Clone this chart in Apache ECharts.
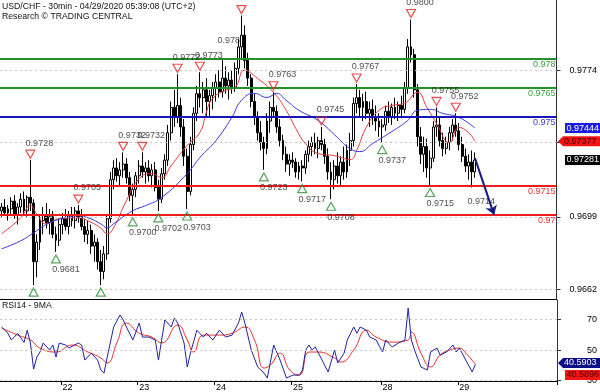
<!DOCTYPE html>
<html>
<head>
<meta charset="utf-8">
<script src="https://cdn.jsdelivr.net/npm/echarts@6.0.0/dist/echarts.min.js"></script>
<style>
html,body{margin:0;padding:0;background:#fff;}
#chart{width:600px;height:392px;}
</style>
</head>
<body>
<div id="chart"></div>
<script>
// ---------- DATA ----------
const titleLine1 = 'USD/CHF - 30min - 04/29/2020 05:39:08 (UTC+2)';
const titleLine2 = 'Research \u00A9 TRADING CENTRAL';
const rsiTitle = 'RSI14 - 9MA';

const dayTickIdx = [19, 43, 67, 91, 119, 143];
const dayTickText = ['22', '23', '24', '25', '28', '29'];
const priceTicks = [0.9662, 0.9699, 0.9737, 0.9774];
const rsiTicks = [30, 50, 70];

const opens = [
0.9702,0.9704,0.9701,0.9703,0.9707,0.9700,0.9704,0.9708,0.9702,0.9709,
0.9706,0.9676,0.9686,0.9697,0.9700,0.9696,0.9699,0.9690,0.9687,0.9695,
0.9698,0.9694,0.9700,0.9697,0.9702,0.9699,0.9694,0.9690,0.9692,0.9684,
0.9686,0.9676,0.9671,0.9680,0.9698,0.9718,0.9724,0.9720,0.9723,0.9726,
0.9719,0.9710,0.9713,0.9720,0.9725,0.9722,0.9724,0.9720,0.9723,0.9714,
0.9708,0.9721,0.9728,0.9742,0.9755,0.9750,0.9756,0.9745,0.9730,0.9712,
0.9736,0.9752,0.9762,0.9760,0.9764,0.9758,0.9761,0.9765,0.9768,0.9763,
0.9770,0.9766,0.9769,0.9765,0.9775,0.9786,0.9792,0.9779,0.9770,0.9758,
0.9750,0.9742,0.9737,0.9734,0.9748,0.9755,0.9753,0.9745,0.9738,0.9731,
0.9726,0.9728,0.9727,0.9722,0.9725,0.9724,0.9731,0.9735,0.9737,0.9734,
0.9738,0.9736,0.9730,0.9722,0.9718,0.9725,0.9720,0.9727,0.9722,0.9733,
0.9738,0.9757,0.9760,0.9755,0.9758,0.9752,0.9754,0.9750,0.9748,0.9745,
0.9746,0.9753,0.9750,0.9755,0.9752,0.9756,0.9754,0.9765,0.9786,0.9782,
0.9764,0.9740,0.9731,0.9735,0.9724,0.9729,0.9745,0.9746,0.9738,0.9734,
0.9737,0.9742,0.9746,0.9743,0.9736,0.9730,0.9725,0.9727,0.9722];
const highs = [
0.9706,0.9708,0.9705,0.9709,0.9710,0.9706,0.9711,0.9712,0.9710,0.9728,
0.9708,0.9690,0.9700,0.9704,0.9706,0.9703,0.9702,0.9694,0.9698,0.9701,
0.9703,0.9702,0.9704,0.9704,0.9705,0.9703,0.9698,0.9697,0.9695,0.9690,
0.9688,0.9682,0.9684,0.9700,0.9722,0.9728,0.9729,0.9727,0.9732,0.9729,
0.9722,0.9716,0.9722,0.9728,0.9732,0.9727,0.9728,0.9726,0.9727,0.9718,
0.9724,0.9731,0.9746,0.9758,0.9764,0.9772,0.9760,0.9749,0.9734,0.9740,
0.9755,0.9766,0.9773,0.9768,0.9770,0.9764,0.9768,0.9772,0.9774,0.9780,
0.9776,0.9773,0.9774,0.9778,0.9790,0.9802,0.9797,0.9783,0.9772,0.9762,
0.9753,0.9748,0.9740,0.9752,0.9758,0.9763,0.9756,0.9749,0.9741,0.9735,
0.9731,0.9732,0.9729,0.9727,0.9728,0.9733,0.9738,0.9740,0.9742,0.9740,
0.9745,0.9739,0.9734,0.9727,0.9728,0.9732,0.9730,0.9735,0.9736,0.9742,
0.9760,0.9767,0.9764,0.9762,0.9763,0.9758,0.9759,0.9756,0.9752,0.9749,
0.9756,0.9758,0.9757,0.9760,0.9758,0.9761,0.9768,0.9790,0.9800,0.9785,
0.9767,0.9745,0.9740,0.9739,0.9733,0.9748,0.9755,0.9750,0.9742,0.9740,
0.9745,0.9749,0.9752,0.9747,0.9740,0.9734,0.9731,0.9733,0.9732];
const lows = [
0.9699,0.9700,0.9697,0.9700,0.9698,0.9695,0.9701,0.9700,0.9699,0.9702,
0.9664,0.9668,0.9682,0.9690,0.9693,0.9690,0.9688,0.9681,0.9684,0.9690,
0.9692,0.9690,0.9694,0.9693,0.9696,0.9692,0.9686,0.9685,0.9680,0.9676,
0.9672,0.9664,0.9667,0.9677,0.9696,0.9713,0.9717,0.9715,0.9719,0.9716,
0.9707,0.9700,0.9709,0.9716,0.9719,0.9716,0.9717,0.9714,0.9712,0.9702,
0.9706,0.9718,0.9725,0.9738,0.9745,0.9747,0.9740,0.9725,0.9703,0.9710,
0.9733,0.9748,0.9755,0.9752,0.9750,0.9750,0.9754,0.9758,0.9760,0.9760,
0.9762,0.9759,0.9762,0.9763,0.9772,0.9780,0.9775,0.9766,0.9755,0.9746,
0.9738,0.9733,0.9723,0.9731,0.9742,0.9750,0.9742,0.9735,0.9728,0.9722,
0.9720,0.9724,0.9719,0.9718,0.9717,0.9721,0.9727,0.9730,0.9731,0.9729,
0.9733,0.9726,0.9718,0.9708,0.9713,0.9716,0.9715,0.9718,0.9719,0.9725,
0.9735,0.9752,0.9750,0.9748,0.9749,0.9745,0.9746,0.9743,0.9740,0.9737,
0.9743,0.9747,0.9746,0.9749,0.9748,0.9750,0.9752,0.9762,0.9778,0.9760,
0.9735,0.9726,0.9722,0.9719,0.9715,0.9727,0.9740,0.9735,0.9730,0.9731,
0.9733,0.9738,0.9740,0.9733,0.9727,0.9722,0.9718,0.9714,0.9719];
const closes = [
0.9704,0.9701,0.9703,0.9707,0.9700,0.9704,0.9708,0.9702,0.9709,0.9706,
0.9676,0.9686,0.9697,0.9700,0.9696,0.9699,0.9690,0.9687,0.9695,0.9698,
0.9694,0.9700,0.9697,0.9702,0.9699,0.9694,0.9690,0.9692,0.9684,0.9686,
0.9676,0.9671,0.9680,0.9698,0.9718,0.9724,0.9720,0.9723,0.9726,0.9719,
0.9710,0.9713,0.9720,0.9725,0.9722,0.9724,0.9720,0.9723,0.9714,0.9708,
0.9721,0.9728,0.9742,0.9755,0.9750,0.9756,0.9745,0.9730,0.9712,0.9736,
0.9752,0.9762,0.9760,0.9764,0.9758,0.9761,0.9765,0.9768,0.9763,0.9770,
0.9766,0.9769,0.9765,0.9775,0.9786,0.9792,0.9779,0.9770,0.9758,0.9750,
0.9742,0.9737,0.9734,0.9748,0.9755,0.9753,0.9745,0.9738,0.9731,0.9726,
0.9728,0.9727,0.9722,0.9725,0.9724,0.9731,0.9735,0.9737,0.9734,0.9738,
0.9736,0.9730,0.9722,0.9718,0.9725,0.9720,0.9727,0.9722,0.9733,0.9738,
0.9757,0.9760,0.9755,0.9758,0.9752,0.9754,0.9750,0.9748,0.9745,0.9746,
0.9753,0.9750,0.9755,0.9752,0.9756,0.9754,0.9765,0.9786,0.9782,0.9764,
0.9740,0.9731,0.9735,0.9724,0.9729,0.9745,0.9746,0.9738,0.9734,0.9737,
0.9742,0.9746,0.9743,0.9736,0.9730,0.9725,0.9727,0.9722,0.97281];

const maBlueIdx = [0,6,10,15,20,24,27,31,33,35,41,45,50,58,62,67,72,75,79,83,86,89,93,99,105,109,112,116,121,127,130,134,138,143,148];
const maBlueVal = [0.96826,0.96867,0.96908,0.96959,0.96985,0.96995,0.96985,0.96954,0.96933,0.96954,0.97021,0.97047,0.97088,0.97211,0.97293,0.97380,0.97499,0.97586,0.97622,0.97601,0.97622,0.97586,0.97535,0.97483,0.97396,0.97339,0.97324,0.97365,0.97416,0.97483,0.97535,0.97540,0.97519,0.97499,0.97444];
const maRedIdx = [0,6,9,11,14,18,24,27,31,33,35,39,43,47,50,53,58,62,64,66,70,73,76,80,85,89,92,95,99,104,109,111,114,118,122,126,130,133,136,140,143,146,148];
const maRedVal = [0.96903,0.96985,0.97047,0.97005,0.96954,0.96980,0.96985,0.96969,0.96933,0.96903,0.96933,0.97072,0.97185,0.97211,0.97190,0.97252,0.97355,0.97422,0.97524,0.97596,0.97637,0.97653,0.97740,0.97699,0.97627,0.97535,0.97442,0.97365,0.97314,0.97303,0.97283,0.97329,0.97447,0.97535,0.97560,0.97571,0.97627,0.97550,0.97468,0.97370,0.97447,0.97421,0.97377];

const levelVals = [0.978, 0.9765, 0.975, 0.9715, 0.97];
const levelText = ['0.978', '0.9765', '0.975', '0.9715', '0.97'];
const levelKind = ['g', 'g', 'b', 'r', 'r'];

const peakIdx = [9, 24, 38, 44, 55, 62, 75, 85, 100, 111, 128, 136, 142];
const peakVal = [0.9728, 0.9705, 0.9732, 0.9732, 0.9772, 0.9773, 0.9802, 0.9763, 0.9745, 0.9767, 0.9800, 0.9755, 0.9752];
const peakText = ['0.9728', '0.9705', '0.9732', '0.9732', '0.9772', '0.9773', '', '0.9763', '0.9745', '0.9767', '0.9800', '0.9755', '0.9752'];

const troughIdx = [10, 17, 31, 41, 49, 58, 82, 94, 103, 119, 134];
const troughVal = [0.9664, 0.9681, 0.9664, 0.9700, 0.9702, 0.9703, 0.9723, 0.9717, 0.9708, 0.9737, 0.9715];
const troughText = ['', '0.9681', '', '0.9700', '0.9702', '0.9703', '0.9723', '0.9717', '0.9708', '0.9737', '0.9715'];

const noteIdx = [71, 150];
const noteVal = [0.97894, 0.97067];
const noteText = ['0.978', '0.9714'];

const arrowFrom = [148, 0.9729];
const arrowTo = [154, 0.9700];

const rsiIdx = [0,2,3,4,5,7,8,9,10,11,12,13,15,16,17,18,20,21,24,25,26,28,30,31,32,33,35,37,38,39,41,43,44,46,48,49,50,51,53,54,55,57,58,59,61,63,64,66,68,70,72,74,75,76,78,80,82,83,85,87,89,91,93,94,95,96,97,98,99,102,104,105,107,108,110,111,112,114,115,117,119,120,122,124,126,127,128,129,131,133,134,136,137,139,141,142,143,145,147,148];
const rsiVal = [65.1,61,56.6,58.5,61,55,63,54.6,37.5,45.4,48.7,54.6,50,53.3,45.4,54.6,53.3,51.3,54.6,53.3,43.4,48,43.4,36.9,34.9,45.4,65.1,73,69.7,65.1,56.6,67.7,58.5,58.5,56.6,43.4,56.6,69.7,65.1,71,67.7,54.6,38.9,48,63,58.5,61,56.6,63,58.5,59.8,67.7,74.9,67.7,50,38.9,34.9,31.6,53.3,43.4,31.6,33.6,33.5,36.9,50,53.3,50,52,48,35.6,50,41.5,48,56.6,65.1,61,65.1,63,58.5,56.6,48.7,56.6,52,54.6,56.6,77.5,56.6,50,38.9,36.9,48.7,51.3,46.7,48.7,53.3,48.7,51.3,43.4,35.6,40.5903];
const rsiMaIdx = [0,5,9,12,17,22,27,31,33,36,39,43,47,50,55,58,60,63,68,72,76,79,82,84,87,90,93,96,99,104,106,110,114,117,122,127,128,131,134,137,140,143,145,148];
const rsiMaVal = [64.4,59.8,56.6,51.3,48.7,53.3,48.7,44.8,41.5,54.6,67.7,61,58.5,54.6,66.4,56.6,48.7,59.8,59.8,61,65.1,56.6,38.2,40.2,48,36.9,33.6,48.7,48.7,44.8,42.1,50,63,58.5,55.2,56.6,61.8,48,38.9,46.7,50,51.3,48,40.5896];

// ---------- STYLE / LAYOUT ----------
const FONT = '"Liberation Sans", Arial, Helvetica, sans-serif';
const N_CATS = 174;
const PRICE_MIN = 0.96569, PRICE_MAX = 0.98100;
const RSI_MIN = 29.7, RSI_MAX = 82.8;
const lineColor = {g: '#23902a', b: '#1717b8', r: '#f01c1c'};
const labelColor = {g: '#3aa040', b: '#3b3bd6', r: '#ee3333'};

const cats = [];
for (let i = 0; i < N_CATS; i++) cats.push(String(i));
const candles = opens.map((o, i) => [o, closes[i], lows[i], highs[i]]);
const pairs = (ix, vs) => ix.map((x, k) => [x, vs[k]]);

const chart = echarts.init(document.getElementById('chart'), null, {renderer: 'canvas', width: 600, height: 392});

const dayLabel = (v, idx) => { const k = dayTickIdx.indexOf(idx); return k >= 0 ? dayTickText[k] : ''; };
const isDay = (idx) => dayTickIdx.indexOf(idx) >= 0;

const option = {
  animation: false,
  backgroundColor: '#fff',
  textStyle: {fontFamily: FONT},
  grid: [
    {left: 0, right: 43, top: 0, height: 299},
    {left: 0, right: 43, top: 300, height: 81}
  ],
  xAxis: [
    {type: 'category', gridIndex: 0, data: cats, boundaryGap: true,
     axisLine: {show: true, onZero: false, lineStyle: {color: '#000', width: 1}},
     axisTick: {show: false}, axisLabel: {show: false}, splitLine: {show: false}},
    {type: 'category', gridIndex: 1, data: cats, boundaryGap: true,
     axisLine: {show: true, onZero: false, lineStyle: {color: '#000', width: 1}},
     axisTick: {show: true, interval: isDay, length: 4, lineStyle: {color: '#000'}},
     axisLabel: {interval: isDay, formatter: dayLabel, align: 'left', margin: 2, fontSize: 9, color: '#000', fontFamily: FONT},
     splitLine: {show: false}}
  ],
  yAxis: [
    {type: 'value', gridIndex: 0, position: 'right', min: PRICE_MIN, max: PRICE_MAX,
     axisLine: {show: true, lineStyle: {color: '#333'}},
     axisTick: {show: true, customValues: priceTicks, length: 4, lineStyle: {color: '#333'}},
     axisLabel: {customValues: priceTicks, formatter: v => v.toFixed(4), fontSize: 9, color: '#000', margin: 13, fontFamily: FONT},
     splitLine: {show: false}},
    {type: 'value', gridIndex: 1, position: 'right', min: RSI_MIN, max: RSI_MAX,
     axisLine: {show: true, lineStyle: {color: '#333'}},
     axisTick: {show: true, customValues: rsiTicks, length: 4, lineStyle: {color: '#333'}},
     axisLabel: {customValues: rsiTicks, formatter: v => String(v), fontSize: 9, color: '#000', margin: 40, align: 'right', fontFamily: FONT},
     splitLine: {show: false}}
  ],
  series: [
    {type: 'line', xAxisIndex: 0, yAxisIndex: 0, data: [], z: 1, silent: true,
     markLine: {silent: true, precision: 6, symbol: ['none', 'none'], label: {show: false},
       lineStyle: {color: '#c4c4c4', type: [2, 3], width: 1},
       data: priceTicks.map(v => ({yAxis: v}))}},
    {type: 'candlestick', xAxisIndex: 0, yAxisIndex: 0, data: candles, z: 2, barWidth: 2.4,
     itemStyle: {color: '#ffffff', color0: '#000000', borderColor: '#000000', borderColor0: '#000000', borderWidth: 1}},
    {type: 'line', xAxisIndex: 0, yAxisIndex: 0, data: pairs(maRedIdx, maRedVal), smooth: 0.5, showSymbol: false, z: 3,
     lineStyle: {color: '#e83a3a', width: 1}},
    {type: 'line', xAxisIndex: 0, yAxisIndex: 0, data: pairs(maBlueIdx, maBlueVal), smooth: 0.5, showSymbol: false, z: 3,
     lineStyle: {color: '#3838e0', width: 1}},
    {type: 'line', xAxisIndex: 0, yAxisIndex: 0, data: [], z: 4, silent: true,
     markLine: {silent: true, precision: 6, symbol: ['none', 'none'],
       data: levelVals.map((v, k) => ({
         yAxis: v,
         lineStyle: {color: lineColor[levelKind[k]], width: 2, type: 'solid'},
         label: {show: true, position: 'insideEndBottom', formatter: levelText[k], color: labelColor[levelKind[k]],
                 fontSize: 9, fontFamily: FONT, distance: 1}
       }))}},
    {type: 'line', xAxisIndex: 0, yAxisIndex: 0, data: [], z: 6, silent: true,
     markLine: {silent: true, precision: 6, symbol: ['none', 'arrow'], symbolSize: 9, label: {show: false},
       lineStyle: {color: '#161a80', width: 2, type: 'solid'},
       data: [[{coord: arrowFrom}, {coord: arrowTo}]]}},
    {type: 'scatter', xAxisIndex: 0, yAxisIndex: 0, z: 5, data: pairs(peakIdx, peakVal),
     symbol: 'path://M0,0 L10,0 L5,9 Z', symbolSize: [9, 8], symbolOffset: [0, -6],
     itemStyle: {color: 'rgba(255,255,255,0)', borderColor: '#e52626', borderWidth: 1.2},
     label: {show: true, position: 'top', distance: 2, offset: [9, 0], formatter: p => peakText[p.dataIndex],
             fontSize: 9, color: '#222', fontFamily: FONT}},
    {type: 'scatter', xAxisIndex: 0, yAxisIndex: 0, z: 5, data: pairs(troughIdx, troughVal),
     symbol: 'path://M5,0 L10,9 L0,9 Z', symbolSize: [9, 8], symbolOffset: [0, 7],
     itemStyle: {color: 'rgba(255,255,255,0)', borderColor: '#2f8f34', borderWidth: 1.2},
     label: {show: true, position: 'bottom', distance: 2, offset: [10, 0], formatter: p => troughText[p.dataIndex],
             fontSize: 9, color: '#222', fontFamily: FONT}},
    {type: 'scatter', xAxisIndex: 0, yAxisIndex: 0, z: 5, data: pairs(noteIdx, noteVal),
     symbolSize: 0.1, itemStyle: {color: 'rgba(0,0,0,0)'},
     label: {show: true, position: 'inside', formatter: p => noteText[p.dataIndex], fontSize: 9, color: '#222', fontFamily: FONT}},
    {type: 'line', xAxisIndex: 1, yAxisIndex: 1, data: [], z: 1, silent: true,
     markLine: {silent: true, precision: 4, symbol: ['none', 'none'], label: {show: false},
       lineStyle: {color: '#c4c4c4', type: [2, 3], width: 1},
       data: rsiTicks.map(v => ({yAxis: v}))}},
    {type: 'line', xAxisIndex: 1, yAxisIndex: 1, data: pairs(rsiMaIdx, rsiMaVal), smooth: 0.5, showSymbol: false, z: 3,
     lineStyle: {color: '#e83030', width: 1}},
    {type: 'line', xAxisIndex: 1, yAxisIndex: 1, data: pairs(rsiIdx, rsiVal), showSymbol: false, z: 4,
     lineStyle: {color: '#22229c', width: 1}}
  ]
};
chart.setOption(option);

// value tags on the right, positioned through the axes
const py = v => chart.convertToPixel({yAxisIndex: 0}, v);
const ry = v => chart.convertToPixel({yAxisIndex: 1}, v);
function tag(yc, fill, txt, txtColor, arrow) {
  const h = 10, t = yc - h / 2;
  const pts = arrow ? [[558, yc], [563, t], [600, t], [600, t + h], [563, t + h]]
                    : [[565, t], [600, t], [600, t + h], [565, t + h]];
  return [
    {type: 'polygon', shape: {points: pts}, style: {fill: fill}, z: 100},
    {type: 'text', x: arrow ? 564 : 566.5, y: yc, z: 101,
     style: {text: txt, fill: txtColor, fontSize: 9, fontFamily: FONT, verticalAlign: 'middle', align: 'left'}}
  ];
}
const lastBlue = maBlueVal[maBlueVal.length - 1];
const lastRed = maRedVal[maRedVal.length - 1];
const lastClose = closes[closes.length - 1];
const lastRsi = rsiVal[rsiVal.length - 1];
const lastRsiMa = rsiMaVal[rsiMaVal.length - 1];
const rsiY = ry(lastRsi);

const graphics = [
  {type: 'text', x: 2, y: 6.5, z: 100, style: {text: titleLine1, fill: '#111', fontSize: 8.7, fontFamily: FONT, verticalAlign: 'middle'}},
  {type: 'text', x: 2, y: 16.5, z: 100, style: {text: titleLine2, fill: '#111', fontSize: 8.7, fontFamily: FONT, verticalAlign: 'middle'}},
  {type: 'text', x: 2, y: 305.5, z: 100, style: {text: rsiTitle, fill: '#111', fontSize: 8.7, fontFamily: FONT, verticalAlign: 'middle'}}
].concat(
  tag(py(lastBlue), '#1c1ce0', lastBlue.toFixed(5), '#fff', false),
  tag(py(lastRed), '#f41414', lastRed.toFixed(5), '#4a0000', true),
  tag(py(lastClose), '#000', lastClose.toFixed(5), '#fff', false),
  tag(rsiY - 1.5, '#0b0b85', lastRsi.toFixed(4), '#fff', true),
  tag(rsiY + 10.5, '#f41414', lastRsiMa.toFixed(4), '#4a0000', false)
);
chart.setOption({graphic: graphics});
</script>
</body>
</html>
